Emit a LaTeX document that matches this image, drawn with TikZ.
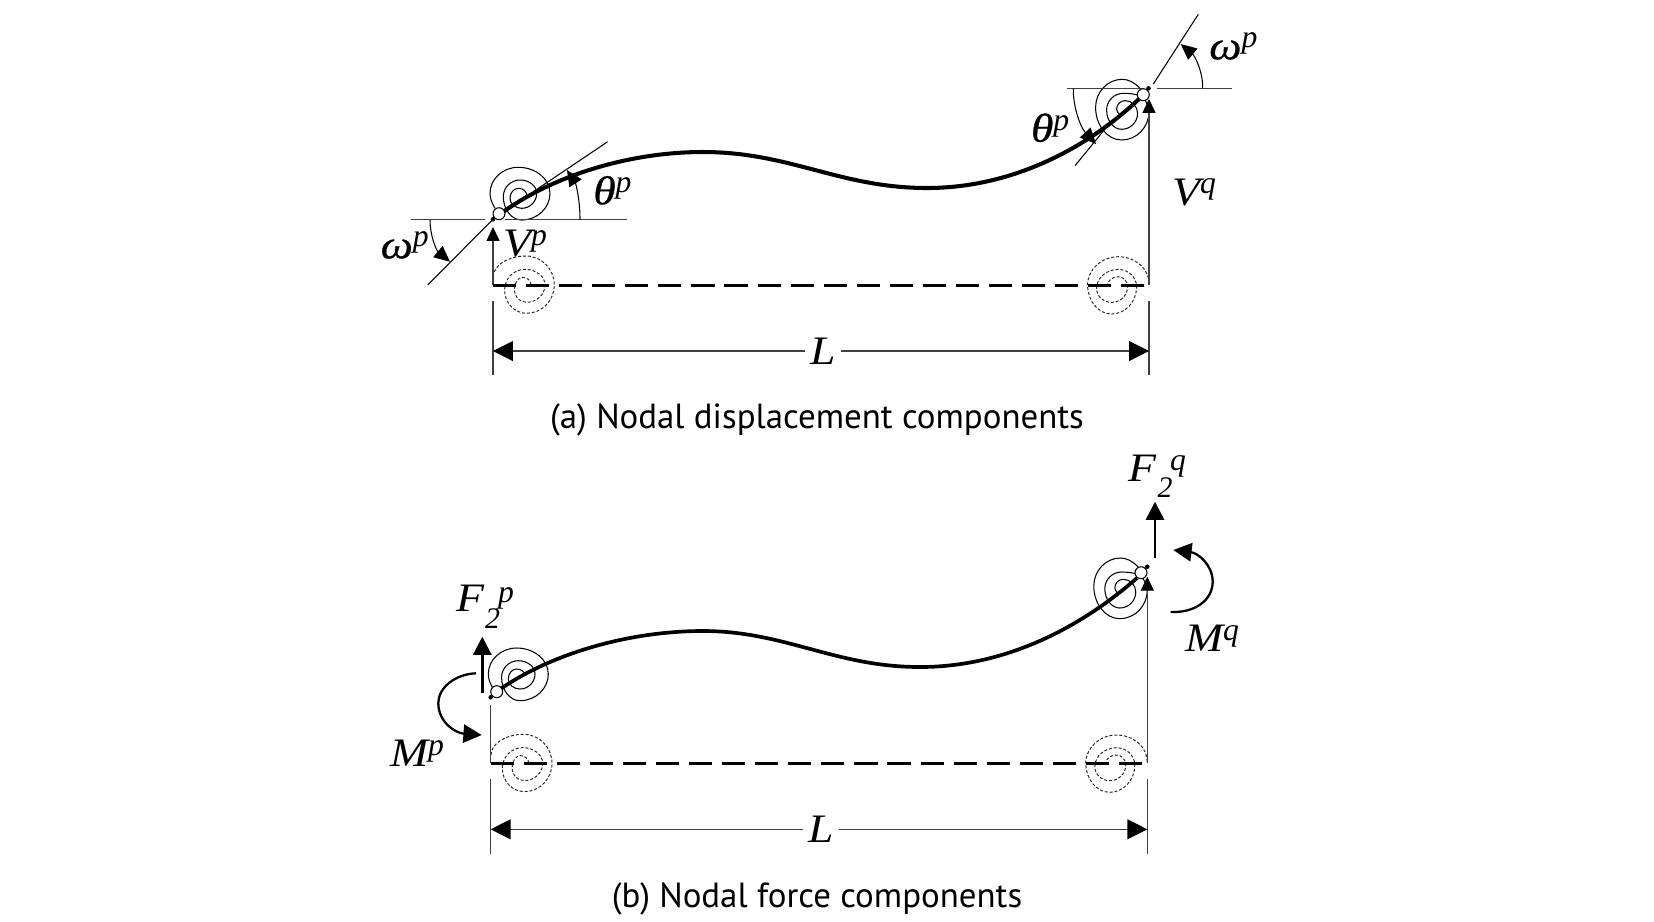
\documentclass[tikz,border=0pt]{standalone}
\usepackage{fontspec}
\setmainfont{PT Sans}
\newfontfamily\tnr{Liberation Serif}
\newfontfamily\tnrw{Liberation Serif}[FakeStretch=1.13]
\newfontfamily\tnrb{Liberation Serif}[FakeBold=0.6,FakeStretch=1.13]
\usetikzlibrary{arrows.meta}
\newcommand{\symf}{\fontsize{23}{24}\selectfont\tnrw\itshape}
\newcommand{\symb}{\fontsize{23}{24}\selectfont\tnrb\itshape}
\newcommand{\supf}{\fontsize{18}{19}\selectfont\tnr\itshape}
\newcommand{\subf}{\fontsize{17}{18}\selectfont\tnr\itshape}
\newcommand{\sy}[3][0pt]{{\symf #2\kern#1\raisebox{6.5pt}{\supf #3}}}
\newcommand{\syb}[3][0pt]{{\symb #2\kern#1\raisebox{6.5pt}{\supf #3}}}
% quarter-ellipse segments: qa starts with a vertical tangent, qb with a horizontal one
\newcommand{\qa}[4]{.. controls (#1,{#2+.55*(#4-(#2))}) and ({#3-.55*(#3-(#1))},#4) .. (#3,#4)}
\newcommand{\qb}[4]{.. controls ({#1+.55*(#3-(#1))},#2) and (#3,{#4-.55*(#4-(#2))}) .. (#3,#4)}
\tikzset{
  thinl/.style={line width=0.62pt,black!75},
  thick curve/.style={line width=2.3pt,black},
  dash line/.style={line width=1.7pt,black,dash pattern=on 13.15pt off 5.67pt},
  dotted sp/.style={line width=0.55pt,black!85,dash pattern=on 1.7pt off 1.1pt},
  solid sp/.style={line width=0.6pt,black},
  smallarr/.style={-{Triangle[length=7.9pt,width=7.4pt,black]}},
  arcarr/.style={line width=.6pt,-{Triangle[length=9pt,width=8.2pt,black]}},
  dimarr/.style={-{Triangle[length=11.3pt,width=11.3pt,black]}},
  forcearr/.style={-{Triangle[length=10.4pt,width=10.4pt]},line width=1.4pt},
  lab/.style={anchor=base west,inner sep=0pt,outer sep=0pt},
  capt/.style={anchor=base,inner sep=0pt,outer sep=0pt,font=\fontsize{19.85}{21}\selectfont},
  hinge/.style={circle,draw=black,line width=0.6pt,fill=white,minimum size=6.8pt,inner sep=0pt},
  pinn/.style={circle,fill=black,minimum size=2.6pt,inner sep=0pt},
  spiralL/.pic={\draw[solid sp] (-25,15) .. controls (-28,10) and (-30,5) .. (-30,0)
     \qa{-30}{0}{-1.7}{-26} \qb{-1.7}{-26}{30}{0} \qa{30}{0}{1.7}{26.7} \qb{1.7}{26.7}{-16.7}{3.3}
     \qa{-16.7}{3.3}{0}{-13.3} \qb{0}{-13.3}{16.7}{0} \qa{16.7}{0}{1.7}{15} \qb{1.7}{15}{-10}{5}
     \qa{-10}{5}{-1.7}{-5} \qb{-1.7}{-5}{6.7}{1.7};},
  spiralR/.pic={\draw[solid sp] (17.7,-21) .. controls (12,-27) and (6,-30) .. (0,-30)
     \qb{0}{-30}{-26.7}{-2} \qa{-26.7}{-2}{-.7}{30.7} \qb{-.7}{30.7}{26.7}{2.3}
     .. controls (26.7,-3) and (24,-8) .. (21,-11);
    \draw[solid sp] (15.3,-14.3) .. controls (11,-15.5) and (6,-16) .. (1,-16)
     \qb{1}{-16}{-15.7}{.7} \qa{-15.7}{.7}{-.7}{20} \qb{-.7}{20}{15.3}{4} \qa{15.3}{4}{2.7}{-8.7}
     \qb{2.7}{-8.7}{-5.7}{0} .. controls (-5.7,2) and (-4,4) .. (-2.3,5.7);},
  dashL/.pic={\draw[dotted sp] (-35,-8.3) \qa{-35}{-8.3}{-2.3}{-29} \qb{-2.3}{-29}{26}{0}
     \qa{26}{0}{-1.7}{28.3} \qb{-1.7}{28.3}{-23.7}{5} \qa{-23.7}{5}{-3.3}{-15.7} \qb{-3.3}{-15.7}{16.7}{0}
     \qa{16.7}{0}{-1.7}{17.3} \qb{-1.7}{17.3}{-14}{5} \qa{-14}{5}{-5.7}{-7.7} \qb{-5.7}{-7.7}{2.7}{0};},
  dashR/.pic={\draw[dotted sp] (30.7,-2.3) \qa{30.7}{-2.3}{0}{-29} \qb{0}{-29}{-30.7}{-.7}
     \qa{-30.7}{-.7}{-6.7}{28.3} \qb{-6.7}{28.3}{18.3}{1} \qa{18.3}{1}{0}{-16.3} \qb{0}{-16.3}{-21.7}{2.7}
     \qa{-21.7}{2.7}{-6.7}{16.7} \qb{-6.7}{16.7}{9.3}{1} \qa{9.3}{1}{0}{-9} \qb{0}{-9}{-11}{0};},
}
\begin{document}
\begin{tikzpicture}[x=0.02cm,y=-0.02cm]
\path[use as bounding box,fill=white] (0,0) rectangle (1654,921);
% ---------- panel (a)
\coordinate (pA) at (493,219.3);
\coordinate (qA) at (1148.5,88.3);
\coordinate (dA) at (493,285);
\coordinate (eA) at (1149,285);
\coordinate (bA) at (493,301);
\coordinate (cA) at (1149,301);
\pic at (520,193.3) {spiralL};
\pic at (1122.3,109.3) {spiralR};
\pic at (528.3,285) {dashL};
\pic at (1118.3,285.7) {dashR};
\coordinate (h1) at (410.7,219.3); \coordinate (h2) at (485,219.3);
\coordinate (h3) at (505,219.3);   \coordinate (h4) at (626.7,219.3);
\coordinate (s1) at (427.7,285);   \coordinate (s2) at (533.3,191.7);
\coordinate (s3) at (607.7,141.7);
\draw[thinl] (h1) -- (h2);
\draw[thinl] (h3) -- (h4);
\draw[line width=.6pt] (s1) -- (pA);
\draw[line width=.6pt] (s2) -- (s3);
\coordinate (h5) at (1066.7,88.3); \coordinate (h6) at (1143,88.3);
\coordinate (h7) at (1157.3,88.3); \coordinate (h8) at (1231.7,88.3);
\coordinate (s4) at (1075,165.7);  \coordinate (s5) at (1105,129);
\coordinate (s6) at (1153.3,84);   \coordinate (s7) at (1198.3,14.3);
\draw[thinl] (h5) -- (h6);
\draw[thinl] (h7) -- (h8);
\draw[line width=.6pt] (s4) -- (s5);
\draw[line width=.6pt] (s6) -- (s7);
% curve
\coordinate (cs) at (503,212); \coordinate (cp) at (703,152);
\coordinate (ct) at (927,188); \coordinate (ce) at (1139,99);
\draw[thick curve] (cs) .. controls (555,175) and (630,152) .. (cp)
  .. controls (790,152) and (840,188) .. (ct)
  .. controls (1010,188) and (1085,150) .. (ce);
\node[hinge] (hA) at (499,213.7) {};
\node[hinge] (hB) at (1143.3,94.7) {};
\node[pinn] (nA) at (pA) {};
\node[pinn] (nB) at (qA) {};
% verticals
\coordinate (ta) at (493,227);
\coordinate (tb) at (1149,99);
\draw[thinl,smallarr] (dA) -- (ta);
\draw[thinl,smallarr] (eA) -- (tb);
\draw[dash line] (dA) -- (eA);
\coordinate (l1) at (493,375); \coordinate (l2) at (1149,375);
\draw[thinl] (bA) -- (l1);
\draw[thinl] (cA) -- (l2);
% dimension
\coordinate (dL1) at (493,351); \coordinate (dL2) at (805,351);
\coordinate (dL3) at (841,351); \coordinate (dL4) at (1149,351);
\draw[thinl,dimarr] (dL2) -- (dL1);
\draw[thinl,dimarr] (dL3) -- (dL4);
% angle arcs
\coordinate (a1) at (580,219.3); \coordinate (a2) at (567,170);
\draw[arcarr] (a1) .. controls (580,200) and (576,184) .. (a2);
\coordinate (a3) at (430,220); \coordinate (a4) at (450,261.7);
\draw[arcarr] (a3) .. controls (430,235) and (436,250) .. (a4);
\coordinate (a5) at (1202.7,88.3); \coordinate (a6) at (1180.7,44);
\draw[arcarr] (a5) .. controls (1203,72) and (1195,56) .. (a6);
\coordinate (a7) at (1073.3,88.3); \coordinate (a8) at (1096,144);
\draw[arcarr] (a7) .. controls (1073,108) and (1081,128) .. (a8);
% labels
\node[lab] (thL) at (593.3,204.3) {\syb{θ}{p}};
\node[lab] (VL) at (503.3,256.7) {\sy{V}{p}};
\node[lab] (omL) at (380.7,258.3) {\syb{ω}{p}};
\node[lab] (omR) at (1209.3,59.3) {\syb{ω}{p}};
\node[lab] (thR) at (1031,141.7) {\syb{θ}{p}};
\node[lab] (VR) at (1172.3,205) {\sy{V}{q}};
\node[lab] (LA) at (810,364) {\symf L};
\node[capt] (capA) at (817,428) {(a) Nodal displacement components};
% ---------- panel (b)
\coordinate (pB) at (490.7,697.3);
\coordinate (qB) at (1147.3,566.7);
\coordinate (dB) at (490.7,763.3);
\coordinate (eB) at (1147.3,763.3);
\pic at (518.3,674) {spiralL};
\pic at (1120.5,588) {spiralR};
\pic at (526,763.3) {dashL};
\pic at (1116.5,764) {dashR};
\coordinate (cbs) at (499,690); \coordinate (cbp) at (703,631);
\coordinate (cbt) at (920,667); \coordinate (cbe) at (1137,578);
\draw[line width=2.1pt] (cbs) .. controls (552,653) and (630,631) .. (cbp)
  .. controls (785,631) and (835,667) .. (cbt)
  .. controls (1005,667) and (1080,628) .. (cbe);
\node[hinge] (hC) at (496.7,691.7) {};
\node[hinge] (hD) at (1141,572.7) {};
\node[pinn] (nC) at (pB) {};
\node[pinn] (nD) at (qB) {};
\coordinate (vt1) at (490.7,705);
\draw[thinl] (vt1) -- (dB);
\coordinate (vt2) at (1147.3,576.7);
\draw[thinl,smallarr] (eB) -- (vt2);
\draw[dash line] (dB) -- (eB);
\coordinate (bB) at (490.7,779.3); \coordinate (cB) at (1147.3,779.3);
\coordinate (l3) at (490.7,854); \coordinate (l4) at (1147.3,854);
\draw[thinl] (bB) -- (l3);
\draw[thinl] (cB) -- (l4);
\coordinate (dM1) at (490.7,829.3); \coordinate (dM2) at (803,829.3);
\coordinate (dM3) at (839,829.3); \coordinate (dM4) at (1147.3,829.3);
\draw[thinl,dimarr] (dM2) -- (dM1);
\draw[thinl,dimarr] (dM3) -- (dM4);
% forces
\coordinate (f1) at (482.3,693.3); \coordinate (f2) at (482.3,636.7);
\draw[forcearr] (f1) -- (f2);
\coordinate (f3) at (1155,558.3); \coordinate (f4) at (1155,501.7);
\draw[forcearr] (f3) -- (f4);
\coordinate (m1) at (476,673.3); \coordinate (m2) at (438.3,703); \coordinate (m3) at (481.7,735);
\draw[forcearr,line width=1.3pt] (m1) .. controls (455,674) and (438.3,688) .. (m2)
  .. controls (438.3,722) and (455,733) .. (m3);
\coordinate (m4) at (1170.7,612); \coordinate (m5) at (1212.7,581.7); \coordinate (m6) at (1173.3,550);
\draw[forcearr,line width=1.3pt] (m4) .. controls (1195,613) and (1212.7,600) .. (m5)
  .. controls (1212.7,565) and (1198,553) .. (m6);
% labels
\node[lab] (FL) at (456,611.7) {\symf F};
\node[lab] (FLs) at (485,628) {\subf 2};
\node[lab] (FLp) at (498,602) {\supf p};
\node[lab] (FR) at (1128.3,481.7) {\symf F};
\node[lab] (FRs) at (1157.7,497) {\subf 2};
\node[lab] (FRq) at (1170,470) {\supf q};
\node[lab] (ML) at (390,766.7) {\sy{M}{p}};
\node[lab] (MR) at (1185,651.7) {\sy{M}{q}};
\node[lab] (LB) at (808,842) {\symf L};
\node[capt] (capB) at (817,907) {(b) Nodal force components};
\end{tikzpicture}
\end{document}
